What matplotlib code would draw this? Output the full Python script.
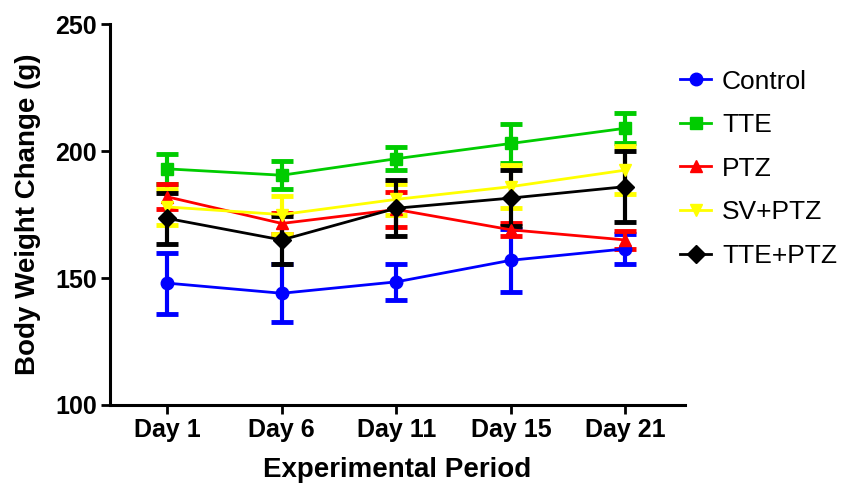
import matplotlib.pyplot as plt
from matplotlib.lines import Line2D
import numpy as np

plt.rcParams['font.family'] = ['Liberation Sans', 'DejaVu Sans']

days = ['Day 1', 'Day 6', 'Day 11', 'Day 15', 'Day 21']
groups = ['Control', 'TTE', 'PTZ', 'SV+PTZ', 'TTE+PTZ']

control = [148, 144, 148.5, 157, 161.5]
control_err = [12, 11.5, 7, 12.5, 6]
tte = [193, 190.5, 197, 203, 209]
tte_err = [6, 5.5, 4.5, 7.5, 6]
ptz = [182, 171.5, 177, 169, 165]
ptz_err = [5, 4, 7, 2.5, 3.5]
sv_ptz = [178, 175, 181, 186, 192.5]
sv_ptz_err = [7, 7.5, 6, 8.5, 9.5]
tte_ptz = [173.5, 165, 177.5, 181.5, 186]
tte_ptz_err = [10, 9.5, 11, 11, 14]

series = [control, tte, ptz, sv_ptz, tte_ptz]
errors = [control_err, tte_err, ptz_err, sv_ptz_err, tte_ptz_err]
colors = ['#0000FF', '#00CC00', '#FF0000', '#FFFF00', '#000000']
markers = ['o', 's', '^', 'v', 'D']

fig = plt.figure(figsize=(8.62, 4.83), dpi=100)
ax = fig.add_axes([0.1276, 0.1615, 0.667, 0.7885])

x = np.arange(1, len(days) + 1)
handles = []
for vals, err, c, m, name in zip(series, errors, colors, markers, groups):
    ax.errorbar(x, vals, yerr=err, color=c, marker=m, markersize=9,
                linewidth=2, elinewidth=3, capsize=8, capthick=3.5)
    handles.append(Line2D([], [], color=c, marker=m, markersize=9, linewidth=2, label=name))

ax.set_xlim(0.5, 5.52)
ax.set_ylim(100, 250)
ax.set_yticks([100, 150, 200, 250])
ax.set_xticks(x)
ax.set_xticklabels(days)
for s in ['top', 'right']:
    ax.spines[s].set_visible(False)
for s in ['left', 'bottom']:
    ax.spines[s].set_linewidth(2.2)
ax.tick_params(axis='both', width=2, length=6.5, labelsize=18, pad=3)
for lab in ax.get_xticklabels() + ax.get_yticklabels():
    lab.set_fontweight('bold')
ax.set_xlabel('Experimental Period', fontsize=20, fontweight='bold', labelpad=11)
ax.set_ylabel('Body Weight Change (g)', fontsize=20, fontweight='bold', labelpad=10)

fig.legend(handles=handles, loc='upper left', bbox_to_anchor=(0.761, 0.905), frameon=False,
           fontsize=19, labelspacing=0.74, handlelength=1.2, handletextpad=0.4)

fig.savefig('out.png', dpi=100)
